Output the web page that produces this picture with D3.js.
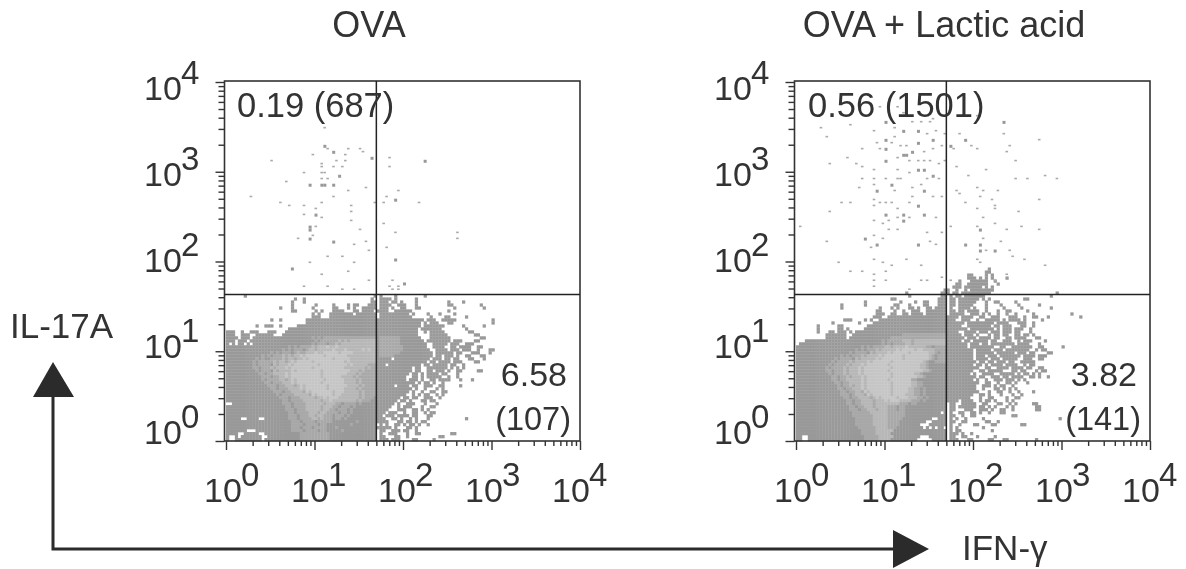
<!DOCTYPE html>
<html>
<head>
<meta charset="utf-8">
<script src="https://cdn.jsdelivr.net/npm/d3@7"></script>
<style>
	html, body { margin: 0; padding: 0; background: #fff; }
	svg { display: block; filter: blur(0.35px); }
	text { font-family: "Liberation Sans", Arial, sans-serif; fill: #333; }
</style>
</head>
<body>
<div class="container"></div>
<script>
const titles = ['OVA', 'OVA + Lactic acid']
const exponents = [0, 1, 2, 3, 4]
const xGate = 50
const yGate = 43
const binsPerDecade = 30

// gray levels seen in the plots
const levels = { a: '#999999', b: '#a8a8a8', c: '#b7b7b7', d: '#c5c5c5' }

// density rows, top row first, bottom row is bin 0. run length: count + level, "." is empty
const densityOva = [
	'6.1a43.1a1.1a4.1a9.1a',
	'23.1a2.1a22.1a2.4a1.1a6.1a',
	'22.1a3.1a22.2a1.3a1.2a1.1a4.1a10.1a4.1a',
	'22.1a7.1a5.1a4.1a1.2a3.3a1.4a2.3a3.1a10.2a9.1a',
	'18.1a3.1a6.1a6.2a3.1a1.1a2.5a1.3a1.1a2.2a3.2a11.1a9.1a',
	'22.2a6.1a1.1a3.4a3.2a1.4a1.4a2.6a12.1a',
	'29.1a1.1a3.8a1.7a1.10a1.1a4.1a3.1a4.1a',
	'29.3a3.16a1.11a6.1a4.2a5.1a',
	'15.1a2.1a8.24a1a13a2a1.3a2.5a12.1a',
	'27.24a1a13a1a1.1a1.3a3.2a13.1a',
	'10.1a2.3a2.1a5.27a1a14a1.7a6.1a6.1a',
	'21.30a1a13a1.7a8.1a',
	'3a2.1a2.3a3.3a3.31a1a13a2.1a1.5a8.2a',
	'3a2.3a2.6a3.32a1a13a4.6a9.2a',
	'4a1.3a1.20a1b1a1b1a18b1a7b7a3.7a10.2a',
	'3a1.3a1.22a1b1a1b5b1c1b1c1b9c1a7b8a1.8a1.3a4.2a',
	'1a1.1a1.2a1.1a1.20a1b1a3b1a2b1c1b12c1a7b9a2.5a1.3a2.3a',
	'21a1b1a1b1a4b1c1b3c1d2c1d13c1a8b8a2.4a2.2a1.4a2.2a',
	'19a1b1a1b1a3b1a1b2c1b5c1d3c1d5c1d1c1d2c1a8b9a2.4a1.3a1.3a2.1a3.2a',
	'15a1b1a1b1a3b1a1b1c2b3c1d2c5d1c4d8c1a7b11a1.6a1.2a3.3a3.1a',
	'12a1b1a1b1a3b1c1b1c1b2c1d1c6d1c7d10c1a5b13a1.2a1.3a1.1a2.2a3.2a',
	'10a1b1a1b2a4b1c1b2c1b2c1d1c8d1c5d9c1a4a1.12a1.3a1.2a1.2a3.2a3.1a',
	'9a1b1a5b1c1b2c1b1c1d1c5d1c10d1c1d9c1a16a1.2a1.4a1.3a4.2a',
	'9a1b1a4b1a1c1b3c1d1c8d1c9d1c1d5c3b1a2a1.11a1.2a1.5a1.2a2.1a',
	'9a2b1a3b1c1b3c1d1c7d1c10d7c1b1c2b1a11a1.2a2.7a1.1a1.1a1.1a',
	'10a1b1a3b1a1c1b4c1d1c8d1c9d3c1b1c4b1a11a1.2a2.2a1.3a1.1a2.2a5.2a',
	'11a2b1a2b4c1d1c10d1c8d3c1b1c5b1a10a1.2a1.1a1.4a1.2a3.1a',
	'12a3b1a2b2c1d1c10d1c6d4c1b1c6b1a9a2.2a1.1a1.5a2.1a2.1a',
	'12a1b1a4b2c1b1c1d1c9d1c6d4c1b1c5b1a9a1.3a1.1a2.2a1.4a3.1a3.1a',
	'13a2b1a3b3c1d1c8d1c7d4c1b1c5b1a12a1.1a1.2a1.1a2.1a',
	'14a3b1a2b3c1b1c1d1c7d1c6d4c1b1c4b1a5a1.4a1.2a2.3a2.2a5.1a',
	'15a2b1a3b4c1d1c7d1c5d4c1b1c5b1a11a1.1a2.1a3.1a1.1a',
	'16a3b1a2b4c1b1d1c7d1c3d5c1b1c4b1a10a1.1a2.1a2.2a2.2a',
	'17a1b1a4b5c1b1d1c5d1c2d6c1b1c4b1a9a2.1a1.1a1.2a2.1a1.1a',
	'18a3b1a3b5c1b2c1d1c3d7c1b1c3b1a1a7a1.2a1.2a2.3a2.1a',
	'19a2b1a4b6c1b2c1d8c1b1c3b2a1a6a1.2a1.1a3.2a1.2a',
	'2.17a3b1a4b6c1b3c2b1a4b1a1b5a1a5a1.1a2.3a3.1a3.1a',
	'20a2b1a4b5c1b3c2b1a3b1a1b7a1a4a2.1a1.3a3.1a2.2a',
	'20a3b1a3b5c1b2c2b1a3b1a1b8a1a3a3.3a2.2a1.1a1.1a',
	'21a2b1a4b3c1b2c4b1a2b1a1b8a1a2a1.3a2.1a2.2a2.1a1.2a',
	'21a3b1a3b2c1b2c3b1a3b1a1b9a1a1a1.3a1.4a1.2a3.2a',
	'5a2.4a2.8a3b1a4b2c1b1c3b1a2b1a1b10a1a2a2.2a1.1a2.1a1.1a3.1a12.1a',
	'22a3b1a4b1a5b8a1b6a1a3a3.2a1.2a1.1a1.2a',
	'22a4b1a4b1a2b8a1b8a1.1a1.1a2.2a1.1a1.2a1.1a2.1a',
	'22a3b1a3b1a4b3a1b13a1a4a1.1a3.2a1.1a',
	'7a3.12a4b1a4b1a2b5a1b11a1.2a2.3a1.2a2.1a',
	'4a2.5a2.12a10b16a1.1a2.3a3.1a2.2a10.2a',
	'1a2.1a1.7a2.11a10b16a1.2a3.2a2.1a10.2a',
	'1a2.9a1.12a10b16a1.3a1.3a4.2a5.1a'
]

const densityLactic = [
	'65.1a',
	'64.2a',
	'58.2a4.1a1.1a',
	'58.3a1.1a1.1a1.1a4.1a',
	'55.1a3.6a2.1a',
	'54.2a2.7a3.1a',
	'53.3a1.6a1.1a1.1a',
	'50.2a2.1a2.1a1.8a',
	'37.1a11.3a1.2a1.10a22.1a',
	'38.1a10.2a1.1a1.2a1.7a22.1a',
	'32.2a14.3a1.2a1.7a1.1a1.1a11.2a',
	'23.1a11.1a4.1a2.2a3.3a1.2a1.6a3.1a2.2a5.1a',
	'15.1a7.1a9.2a3.1a4.2a3.3a1.2a1.5a4.1a4.1a5.1a6.1a',
	'15.1a12.1a3.1a1.1a3.2a1.1a2.2a1.4a1.1a2.4a1.1a3.1a5.1a5.1a9.1a',
	'27.2a4.1a2.1a2.3a2.7a1.2a1.2a1.4a2.1a3.1a2.2a5.1a',
	'27.3a2.2a2.2a1.4a1.7a1.5a2.3a1.1a1.1a2.1a2.1a2.1a5.1a12.1a',
	'26.3a2.20a1a3a1.4a2.2a2.3a3.3a2.1a2.2a3.1a10.1a',
	'16.3a4.1a1.1a2.23a1a2a2.3a2.1a2.5a1.1a1.4a1.1a5.1a',
	'12.1a8.1a4.25a1a5a1.9a1.4a3.3a2.1a',
	'7.1a6.2a8.27a1a4a2.8a1.2a1.3a3.2a2.1a',
	'7.1a6.2a1.1a5.28a1a6a1.8a1.1a1.3a1.3a2.1a',
	'7.1a3.2a1.3a1.1a1.31a1a3a2.4a1.3a1.3a1.3a1.2a3.1a',
	'10.7a2.17a15b1a4a1.3a1.1a3.1a1.2a1.2a2.2a1.2a1.1a',
	'10.7a1.14a19b1a5a1.3a1.4a1.2a2.2a1.4a3.2a',
	'3.26a1b1a5b3c1b11c1a4a1.2a1.5a1.2a2.3a2.1a1.3a4.1a',
	'1.28a1b1a1b1a4b2c1b11c1a6a1.3a1.2a1.8a1.4a3.1a',
	'22a1b1a1b1a4b2c1b4c1d6c2b1a4b1a6a1.8a2.2a2.7a2.2a6.1a',
	'20a1b1a1b1a3b1c1b5c1d1c4d1c2d4c4b1a8a1.5a1.3a1.8a2.1a1.2a',
	'18a1b1a4b1a1c1b4c1d1c5d1c6d2c1b1a2b1a8a1.6a1.6a1.3a1.2a4.2a',
	'15a1b1a1b1a3b1c1b4c1d1c6d1c8d1c1b1a3b1a8a1.3a1.3a1.7a1.4a1.3a',
	'13a1b1a4b1a1c1b5c1d1c7d1c8d1c1b1a3b1a8a1.4a1.3a1.5a2.3a2.2a',
	'12a1b1a4b1c1b4c1d1c6d1c10d1c1b2a4b1a9a1.2a1.2a1.3a1.2a2.5a',
	'11a1b1a4b1c1b3c1d1c7d1c10d2c1b6a1a8a1.2a1.1a1.4a1.4a2.1a1.2a',
	'10a1b1a4b1c1b3c1d1c9d1c9d2c1b6a1a10a2.2a2.4a1.4a1.2a2.2a',
	'10a2b1a3b1c1b3c1d1c8d1c11d2c1b5a1a8a2.2a1.5a3.2a1.2a3.1a1.2a',
	'11a1b1a3b1c1b3c1d1c9d1c7d2c1b8a1a7a1.1a2.4a2.5a1.1a1.2a1.1a1.1a',
	'12a2b1a2b1c1b3c1d1c8d1c8d2c1b7a1a9a1.2a2.3a1.2a1.4a2.2a1.1a2.1a',
	'12a2b1a2b5c1d1c7d1c7d2b1a9a1a8a1.1a2.1a2.3a1.3a1.1a1.1a',
	'13a2b1a2b4c1d1c8d1c6d2c2b1a7a1a10a2.2a2.1a2.2a1.1a3.1a',
	'14a1b1a2b1c1b2c1d1c8d1c6d2c2b1a7a1a9a2.3a1.1a1.2a2.1a',
	'14a2b1a2b3c1d1c8d1c5d2c2b1a1b7a1a9a2.1a3.2a1.1a1.1a1.1a',
	'15a2b1a2b2c1b1d1c7d1c5d2c2b1a1b7a1a10a3.1a2.2a2.1a2.1a4.1a',
	'15a3b1a1b3c1b1d1c6d1c4d3c2b1a1b7a1a8a2.2a1.1a3.1a3.1a2.1a',
	'16a2b1a2b4c1b1c1d1c5d1c3d3c2b1a1b6a1a7a3.1a2.2a4.1a2.2a',
	'17a2b1a2b4c1b3c1d1c3d4c3b1a1b7a1a3a1.4a2.1a1.2a1.1a3.1a1.1a',
	'17a2b1a2b4c1b8c3b1a2b10a1.2a2.5a2.2a3.2a2.1a1.1a5.2a',
	'18a2b1a2b3c1b4c3b1a2b14a1.2a1.6a1.2a1.1a1.1a3.1a1.1a7.2a',
	'18a3b1a2b3c1b3c3b1a2b14a1.2a3.3a2.3a1.1a2.2a2.1a7.2a',
	'19a6b6c6b12a1.1a1.1a2.2a2.2a1.1a2.1a3.2a',
	'19a7b5c6b14a1.2a2.1a2.2a12.2a',
	'20a6b5c5b10a2.3a1.1a1.1a2.1a5.1a25.1a',
	'20a6b5c4b9a2.5a1.2a2.2a6.2a2.1a',
	'20a6b5c4b7a3.6a1.1a2.1a4.2a4.2a8.2a',
	'21a6b4c3b9a1.1a1.1a1.2a2.1a1.1a8.1a',
	'22a5b6c18a1.1a1.2a10.1a',
	'22a5b5c19a1.3a1.1a2.1a',
	'2a2.19a5b5c9a3.6a1.2a2.2a3.1a5.1a',
	'2a2.19a5b4c9a5.5a1.3a3.2a5.2a3.2a9.1a'
]

// single events above the dense part, as [x bin, y bin]
const blocksOva = [[33,98],[36,96],[49,94],[67,93],[28,85],[32,85],[33,85],[36,85],[38,88],[57,80],[30,75],[28,70],[28,71],[28,67],[36,66],[57,60],[22,57],[60,52]]
const dotsOva = [[33,104],[29,95],[15,93],[41,97],[45,97],[46,96],[34,97],[40,95],[37,93],[40,93],[36,91],[39,91],[32,92],[32,91],[55,94],[55,91],[26,89],[32,89],[33,89],[20,86],[32,87],[34,87],[41,83],[47,84],[58,83],[8,81],[36,81],[54,81],[65,79],[18,79],[21,78],[32,79],[26,78],[30,77],[42,78],[42,76],[50,79],[53,79],[26,75],[32,74],[42,73],[30,71],[53,72],[45,70],[57,69],[78,69],[78,67],[24,67],[29,68],[47,66],[43,65],[54,64],[48,63],[34,61],[39,61],[28,59],[43,59],[41,56],[32,55],[48,53],[56,53],[26,51],[34,51],[39,50],[55,51],[58,51],[56,50],[58,50],[43,50]]
const blocksLactic = [[30,106],[70,106],[36,103],[41,103],[30,100],[46,100],[57,100],[41,99],[30,97],[52,98],[36,95],[39,96],[37,95],[30,93],[41,90],[43,90],[46,88],[32,85],[27,83],[43,83],[41,78],[30,75],[36,75],[36,73],[43,75],[62,70],[23,67],[27,65],[41,65],[57,65],[62,65],[67,63],[62,63]]
const dotsLactic = [[8,104],[18,105],[26,103],[10,101],[33,104],[28,111],[34,111],[36,109],[39,106],[42,106],[45,106],[46,107],[44,102],[47,103],[50,102],[55,102],[70,102],[82,100],[27,99],[33,101],[32,99],[35,98],[37,98],[22,97],[28,97],[43,96],[46,97],[49,98],[59,98],[61,97],[72,98],[71,96],[53,97],[17,94],[11,92],[20,92],[22,91],[34,94],[38,93],[41,93],[43,93],[45,93],[48,92],[50,93],[54,91],[74,93],[64,90],[26,90],[34,90],[38,89],[58,88],[84,88],[22,87],[26,87],[30,87],[35,87],[44,87],[48,87],[74,87],[78,87],[88,87],[26,85],[34,87],[42,85],[21,84],[39,84],[33,83],[54,83],[61,84],[63,83],[68,83],[55,82],[62,81],[46,81],[49,81],[39,81],[82,80],[66,80],[57,79],[15,79],[18,79],[26,80],[28,79],[30,79],[32,79],[38,79],[26,78],[67,78],[67,77],[61,77],[75,76],[11,76],[34,77],[38,74],[47,74],[26,73],[31,73],[34,74],[63,74],[1,71],[29,72],[31,70],[34,70],[44,69],[49,69],[52,71],[61,71],[67,72],[71,70],[76,71],[82,70],[29,67],[26,68],[10,66],[63,67],[45,66],[47,65],[25,64],[69,66],[72,63],[73,61],[77,60],[64,63],[14,59],[26,60],[29,59],[32,58],[37,60],[42,58],[84,58],[61,60],[62,59],[18,56],[22,56],[26,55],[30,56],[26,53],[30,53],[42,53],[44,53],[49,54],[52,53],[71,55],[26,51],[38,50],[67,53],[61,108]]

const panels = [
	{ dx: 0, density: densityOva, blocks: blocksOva, dots: dotsOva, title: titles[0], titleX: 369,
		quad: ['0.19 (687)', '6.58', '(107)'], quadX: [237, 567, 571] },
	{ dx: 570, density: densityLactic, blocks: blocksLactic, dots: dotsLactic, title: titles[1], titleX: 944,
		quad: ['0.56 (1501)', '3.82', '(141)'], quadX: [808, 1137, 1141] }
]

const x = d3.scaleLog().domain([1, 10000]).range([226, 580])
const y = d3.scaleLog().domain([1, 10000]).range([441, 82])
const binValue = i => Math.pow(10, i / binsPerDecade)

// the exponent labels do not sit exactly on their ticks in the figure
const xLabel = d3.scaleLinear().domain([0, 4]).range([204, 552])
const yLabel = d3.scaleLinear().domain([0, 4]).range([444, 100])

let svg = d3.select('.container')
	.append('svg')
	.attr('width', 1186)
	.attr('height', 569)

function parseRow(str) {
	let cells = []
	let col = 0
	for (const m of str.matchAll(/(\d+)([.abcd])/g)) {
		let n = +m[1]
		if (m[2] !== '.') {
			for (let k = 0; k < n; k++) cells.push({ col: col + k, level: m[2] })
		}
		col += n
	}
	return cells
}

function drawPanel(p) {
	let g = svg.append('g').attr('transform', `translate(${p.dx},0)`)

	let cells = []
	p.density.forEach((row, i) => {
		let r = p.density.length - 1 - i
		parseRow(row).forEach(c => cells.push({ col: c.col, row: r, level: c.level }))
	})

	g.append('g').selectAll('rect')
		.data(cells)
		.join('rect')
		.attr('x', d => x(binValue(d.col)))
		.attr('y', d => y(binValue(d.row + 1)))
		.attr('width', d => x(binValue(d.col + 1)) - x(binValue(d.col)) + 0.3)
		.attr('height', d => y(binValue(d.row)) - y(binValue(d.row + 1)) + 0.3)
		.attr('fill', d => levels[d.level])

	g.append('g').selectAll('rect')
		.data(p.blocks)
		.join('rect')
		.attr('x', d => x(binValue(d[0])))
		.attr('y', d => y(binValue(d[1] + 1)))
		.attr('width', 3)
		.attr('height', 3)
		.attr('fill', levels.a)

	g.append('g').selectAll('rect')
		.data(p.dots)
		.join('rect')
		.attr('x', d => x(binValue(d[0])))
		.attr('y', d => y(binValue(d[1] + 1)))
		.attr('width', 2.6)
		.attr('height', 1.6)
		.attr('fill', '#aaa')

	// frame
	g.append('rect')
		.attr('x', 224.5)
		.attr('y', 81)
		.attr('width', 355.5)
		.attr('height', 360)
		.attr('fill', 'none')
		.attr('stroke', '#333')
		.attr('stroke-width', 1.6)

	// quadrant gates
	g.append('line')
		.attr('x1', x(xGate)).attr('x2', x(xGate))
		.attr('y1', 81).attr('y2', 441)
		.attr('stroke', '#222').attr('stroke-width', 1.5)
	g.append('line')
		.attr('x1', 224.5).attr('x2', 580)
		.attr('y1', y(yGate)).attr('y2', y(yGate))
		.attr('stroke', '#222').attr('stroke-width', 1.5)

	// log ticks, majors longer than minors
	let tickVals = []
	for (let e = 0; e < 4; e++) {
		for (let m = 1; m < 10; m++) tickVals.push(m * Math.pow(10, e))
	}
	tickVals.push(10000)
	const isMajor = v => Math.abs(Math.log10(v) % 1) < 1e-9

	let xAxis = g.append('g').attr('transform', 'translate(0,441)')
		.call(d3.axisBottom(x).tickValues(tickVals).tickFormat('').tickSize(5).tickSizeOuter(0))
	let yAxis = g.append('g').attr('transform', 'translate(224.5,0)')
		.call(d3.axisLeft(y).tickValues(tickVals).tickFormat('').tickSize(5).tickSizeOuter(0))
	xAxis.select('.domain').remove()
	yAxis.select('.domain').remove()
	xAxis.selectAll('.tick line').attr('y2', d => isMajor(d) ? 9 : 5)
	yAxis.selectAll('.tick line').attr('x2', d => isMajor(d) ? -9 : -6)
	g.selectAll('.tick line').attr('stroke', '#333').attr('stroke-width', 1.4)

	// axis labels: 10 with the exponent raised
	exponents.forEach(e => {
		g.append('text').attr('x', xLabel(e)).attr('y', 502)
			.style('font-size', '34px').text('10')
		g.append('text').attr('x', xLabel(e) + 37).attr('y', 486)
			.style('font-size', '33px').text(e)
		g.append('text').attr('x', 144).attr('y', yLabel(e))
			.style('font-size', '34px').text('10')
		g.append('text').attr('x', 181).attr('y', yLabel(e) - 16)
			.style('font-size', '33px').text(e)
	})

	svg.append('text')
		.attr('x', p.titleX).attr('y', 37)
		.attr('text-anchor', 'middle')
		.style('font-size', '36px')
		.text(p.title)

	svg.append('text').attr('x', p.quadX[0]).attr('y', 117).style('font-size', '34.5px').text(p.quad[0])
	svg.append('text').attr('x', p.quadX[1]).attr('y', 386).attr('text-anchor', 'end').style('font-size', '34px').text(p.quad[1])
	svg.append('text').attr('x', p.quadX[2]).attr('y', 430).attr('text-anchor', 'end').style('font-size', '32.5px').text(p.quad[2])
}

panels.forEach(drawPanel)

// axis names and the corner arrows
svg.append('text').attr('x', 10).attr('y', 338).style('font-size', '35px').text('IL-17A')
svg.append('text').attr('x', 962).attr('y', 560).style('font-size', '35px').text('IFN-γ')

svg.append('path')
	.attr('d', 'M53,396 V549 H894')
	.attr('fill', 'none')
	.attr('stroke', '#2b2b2b')
	.attr('stroke-width', 3)
svg.append('path').attr('d', 'M53,362 L74,397 L33,397 Z').attr('fill', '#2b2b2b')
svg.append('path').attr('d', 'M929,549 L893,530 L893,568 Z').attr('fill', '#2b2b2b')
</script>
</body>
</html>
